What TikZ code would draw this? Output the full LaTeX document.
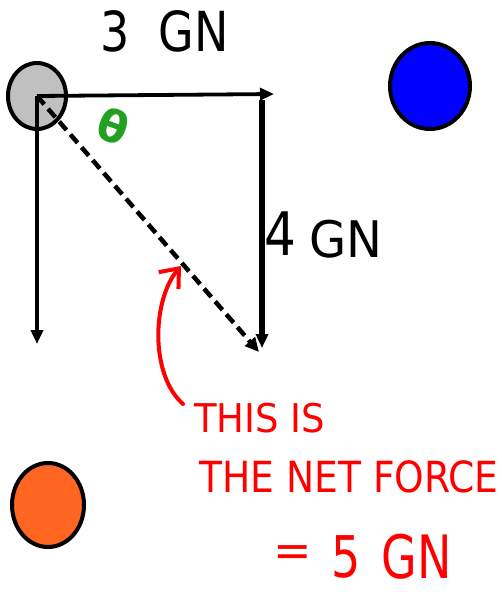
\documentclass[tikz,border=0pt]{standalone}
\usepackage{fontspec}
\setmainfont{DejaVu Sans}
\usetikzlibrary{arrows.meta,shapes.geometric}
\definecolor{ballgray}{HTML}{C0C0C0}
\definecolor{ballblue}{HTML}{0000FF}
\definecolor{ballorange}{HTML}{FF6622}
\definecolor{penred}{HTML}{FF0000}
\definecolor{pengreen}{HTML}{22A022}
\tikzset{
  ball/.style={ellipse, draw=black, line width=4pt, inner sep=0pt},
  force/.style={line width=3.8pt, -{Triangle[length=14pt,width=12pt]}},
  netforce/.style={line width=4.5pt, dash pattern=on 11pt off 6pt, -{Triangle[length=14pt,width=13pt]}},
  blacktext/.style={text=black, inner sep=0pt, anchor=base, transform shape},
  redtext/.style={text=penred, inner sep=0pt, anchor=base west, transform shape},
  redword/.style={text=penred, inner sep=0pt, anchor=base, transform shape},
  redpen/.style={draw=penred, line width=4pt, line cap=round, line join=round}
}
\begin{document}
\begin{tikzpicture}[x=1pt,y=-1pt]
\useasboundingbox[fill=white] (0,0) rectangle (502,592);
% bodies
\node[ball, fill=ballgray, minimum width=58pt, minimum height=66pt] (gray) at (37,96) {};
\node[ball, fill=ballblue, minimum width=80pt, minimum height=86pt] (blue) at (430,86) {};
\node[ball, fill=ballorange, minimum width=72pt, minimum height=84pt] (orange) at (48,505) {};
% coordinates
\coordinate (hend) at (274,94);
\coordinate (vend) at (37,344);
\coordinate (rtop) at (262,100);
\coordinate (rbot) at (262,348);
\coordinate (nend) at (259,352);
% force arrows
\draw[force] (gray.center) -- (hend);
\draw[force] (gray.center) -- (vend);
\draw[force, line width=5.5pt] (rtop) -- (rbot);
\draw[netforce] (gray.center) -- (nend);
% labels
\node[blacktext, font=\fontsize{46}{46}\selectfont, yscale=1.2] (three) at (115,51) {3};
\node[blacktext, font=\fontsize{46}{46}\selectfont, yscale=1.2] (gn1) at (194,51) {GN};
\node[blacktext, font=\fontsize{50}{50}\selectfont, yscale=1.2] (four) at (280,255) {4};
\node[blacktext, font=\fontsize{48}{48}\selectfont, yscale=1.05] (gn2) at (346,257) {GN};
\node[text=pengreen, font=\fontsize{44}{44}\selectfont\bfseries, inner sep=0pt, rotate=-20] (theta) at (113,126) {θ};
% red annotation
\coordinate (rstart) at (183,404);
\coordinate (rtip) at (181,266);
\draw[redpen, -{Straight Barb[length=16pt,width=26pt,line width=4pt]}] (rstart) .. controls (150,375) and (152,300) .. (rtip);
\node[redtext, font=\fontsize{33}{33}\selectfont, xscale=1.12, yscale=1.2] (l1) at (194,432) {THIS IS};
\node[redtext, font=\fontsize{33}{33}\selectfont, xscale=1.14, yscale=1.3] (l2) at (199,492) {THE NET FORCE};
\node[redword, font=\fontsize{46}{46}\selectfont] (eq) at (293,566) {=};
\node[redword, font=\fontsize{46}{46}\selectfont, yscale=1.25] (five) at (346,577) {5};
\node[redword, font=\fontsize{46}{46}\selectfont, yscale=1.3] (gn3) at (417,578) {GN};
\end{tikzpicture}
\end{document}
